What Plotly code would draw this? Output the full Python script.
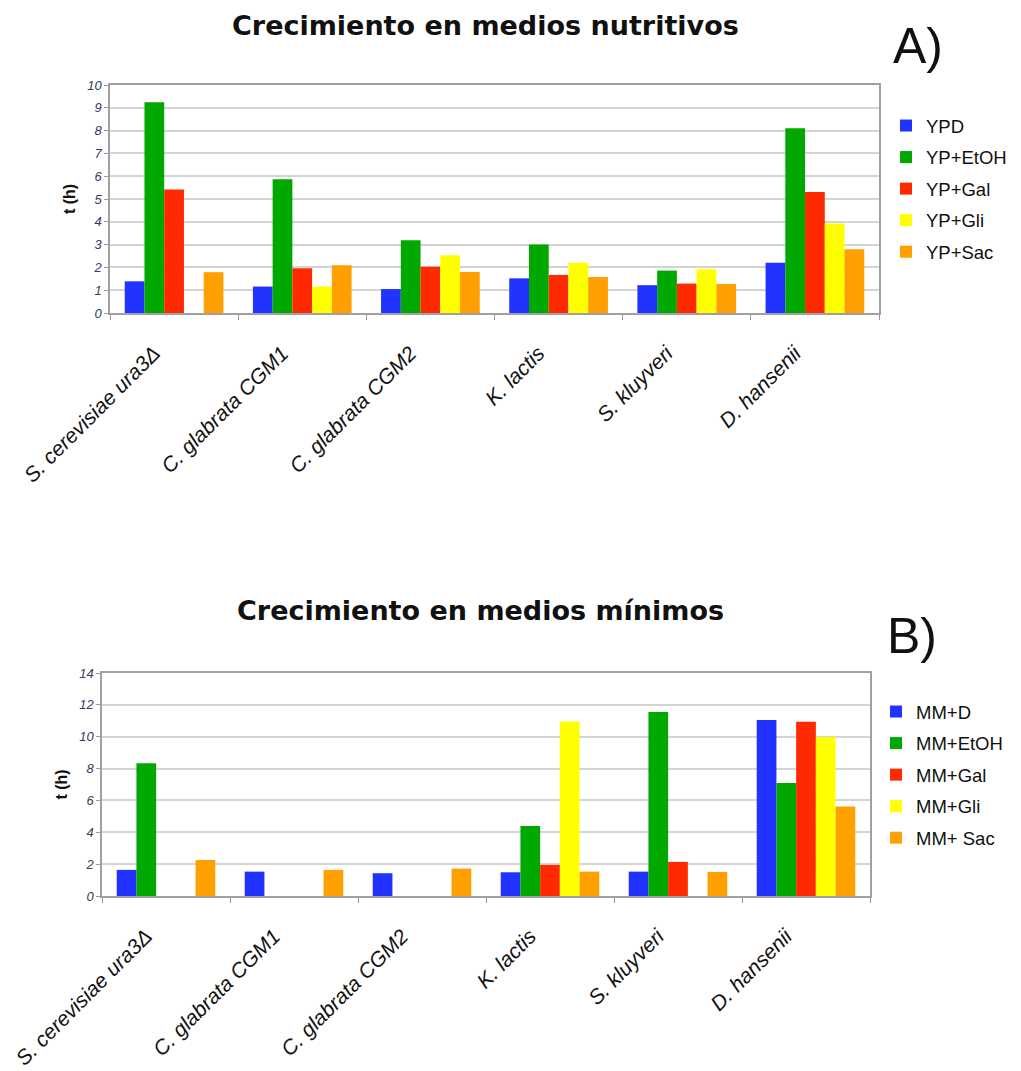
import plotly.graph_objects as go

categories = ["S. cerevisiae ura3Δ", "C. glabrata CGM1", "C. glabrata CGM2",
              "K. lactis", "S. kluyveri", "D. hansenii"]

# Chart A: Crecimiento en medios nutritivos
series_a_names = ["YPD", "YP+EtOH", "YP+Gal", "YP+Gli", "YP+Sac"]
ypd      = [1.39, 1.16, 1.05, 1.52, 1.22, 2.20]
yp_etoh  = [9.24, 5.87, 3.19, 3.00, 1.86, 8.10]
yp_gal   = [5.42, 1.96, 2.03, 1.67, 1.29, 5.31]
yp_gli   = [0.00, 1.16, 2.53, 2.20, 1.92, 3.92]
yp_sac   = [1.79, 2.09, 1.80, 1.58, 1.27, 2.80]

# Chart B: Crecimiento en medios mínimos
series_b_names = ["MM+D", "MM+EtOH", "MM+Gal", "MM+Gli", "MM+ Sac"]
mm_d     = [1.64, 1.53, 1.43, 1.49, 1.53, 11.05]
mm_etoh  = [8.34, 0.00, 0.00, 4.40, 11.55, 7.09]
mm_gal   = [0.00, 0.00, 0.00, 1.95, 2.14, 10.94]
mm_gli   = [0.00, 0.00, 0.00, 10.96, 0.00, 9.98]
mm_sac   = [2.26, 1.64, 1.72, 1.53, 1.51, 5.62]

colors = ["#2233ff", "#00a800", "#ff2a00", "#ffff00", "#ffa000"]

fig = go.Figure()

for i, (name, vals) in enumerate(zip(series_a_names, [ypd, yp_etoh, yp_gal, yp_gli, yp_sac])):
    fig.add_trace(go.Bar(x=categories, y=vals, name=name, marker_color=colors[i],
                         marker_line_width=0, xaxis="x", yaxis="y",
                         legend="legend", legendgroup="a%d" % i))
for i, (name, vals) in enumerate(zip(series_b_names, [mm_d, mm_etoh, mm_gal, mm_gli, mm_sac])):
    fig.add_trace(go.Bar(x=categories, y=vals, name=name, marker_color=colors[i],
                         marker_line_width=0, xaxis="x2", yaxis="y2",
                         legend="legend2", legendgroup="b%d" % i))

W, H = 1021, 1071
def px_x(v): return v / W
def px_y(v): return 1 - v / H

ticktext = ["<i>%s</i>" % c for c in categories]

xcommon = dict(type="category", tickson="boundaries", ticks="outside", ticklen=5,
               tickcolor="#999999", showgrid=False, showline=True, linecolor="#a0a0a0",
               linewidth=1.5, mirror=True, tickangle=-45, tickvals=categories,
               ticktext=ticktext, automargin=False,
               ticklabelshift=-20, ticklabelstandoff=18,
               tickfont=dict(family="Liberation Sans, Arial", size=21, color="#111111"))
ycommon = dict(showgrid=True, gridcolor="#d4d4d4", gridwidth=1.5, showline=True,
               linecolor="#a0a0a0", linewidth=1.5, mirror=True, ticks="outside",
               ticklen=4, tickcolor="#999999", zeroline=False, automargin=False,
               tickfont=dict(family="Liberation Sans, Arial", size=13, color="#3a3a5a",
                             style="italic"),
               title=dict(text="<b>t (h)</b>",
                          font=dict(family="Liberation Sans, Arial", size=16, color="#111111"),
                          standoff=8))

legend_font = dict(family="Liberation Sans, Arial", size=18.5, color="#111111")
title_font = dict(family="DejaVu Sans, Arial Black", size=27, color="#111111")
letter_font = dict(family="Liberation Sans, Arial", size=50, color="#111111")

fig.update_layout(
    width=W, height=H,
    margin=dict(l=0, r=0, t=0, b=0),
    paper_bgcolor="white", plot_bgcolor="white",
    bargap=0.23, bargroupgap=0, barmode="group",
    showlegend=True,
    xaxis=dict(domain=[px_x(110), px_x(879)], anchor="y", **xcommon),
    yaxis=dict(domain=[px_y(313), px_y(85)], anchor="x", range=[0, 10], dtick=1, **ycommon),
    xaxis2=dict(domain=[px_x(102), px_x(870)], anchor="y2", **xcommon),
    yaxis2=dict(domain=[px_y(896), px_y(673)], anchor="x2", range=[0, 14], dtick=2, **ycommon),
    legend=dict(x=px_x(886), y=px_y(107), xanchor="left", yanchor="top",
                font=legend_font, traceorder="grouped", tracegroupgap=4.5, itemwidth=30,
                bgcolor="rgba(0,0,0,0)"),
    legend2=dict(x=px_x(876), y=px_y(693), xanchor="left", yanchor="top",
                 font=legend_font, traceorder="grouped", tracegroupgap=4.5, itemwidth=30,
                 bgcolor="rgba(0,0,0,0)"),
    annotations=[
        dict(text="<b>Crecimiento en medios nutritivos</b>", x=px_x(485), y=px_y(25),
             xref="paper", yref="paper", showarrow=False, xanchor="center", yanchor="middle",
             font=title_font),
        dict(text="A)", x=px_x(918), y=px_y(46), xref="paper", yref="paper", showarrow=False,
             xanchor="center", yanchor="middle", font=letter_font),
        dict(text="<b>Crecimiento en medios mínimos</b>", x=px_x(480), y=px_y(610),
             xref="paper", yref="paper", showarrow=False, xanchor="center", yanchor="middle",
             font=title_font),
        dict(text="B)", x=px_x(912), y=px_y(636), xref="paper", yref="paper", showarrow=False,
             xanchor="center", yanchor="middle", font=letter_font),
    ],
)

fig.write_html("out.html")
